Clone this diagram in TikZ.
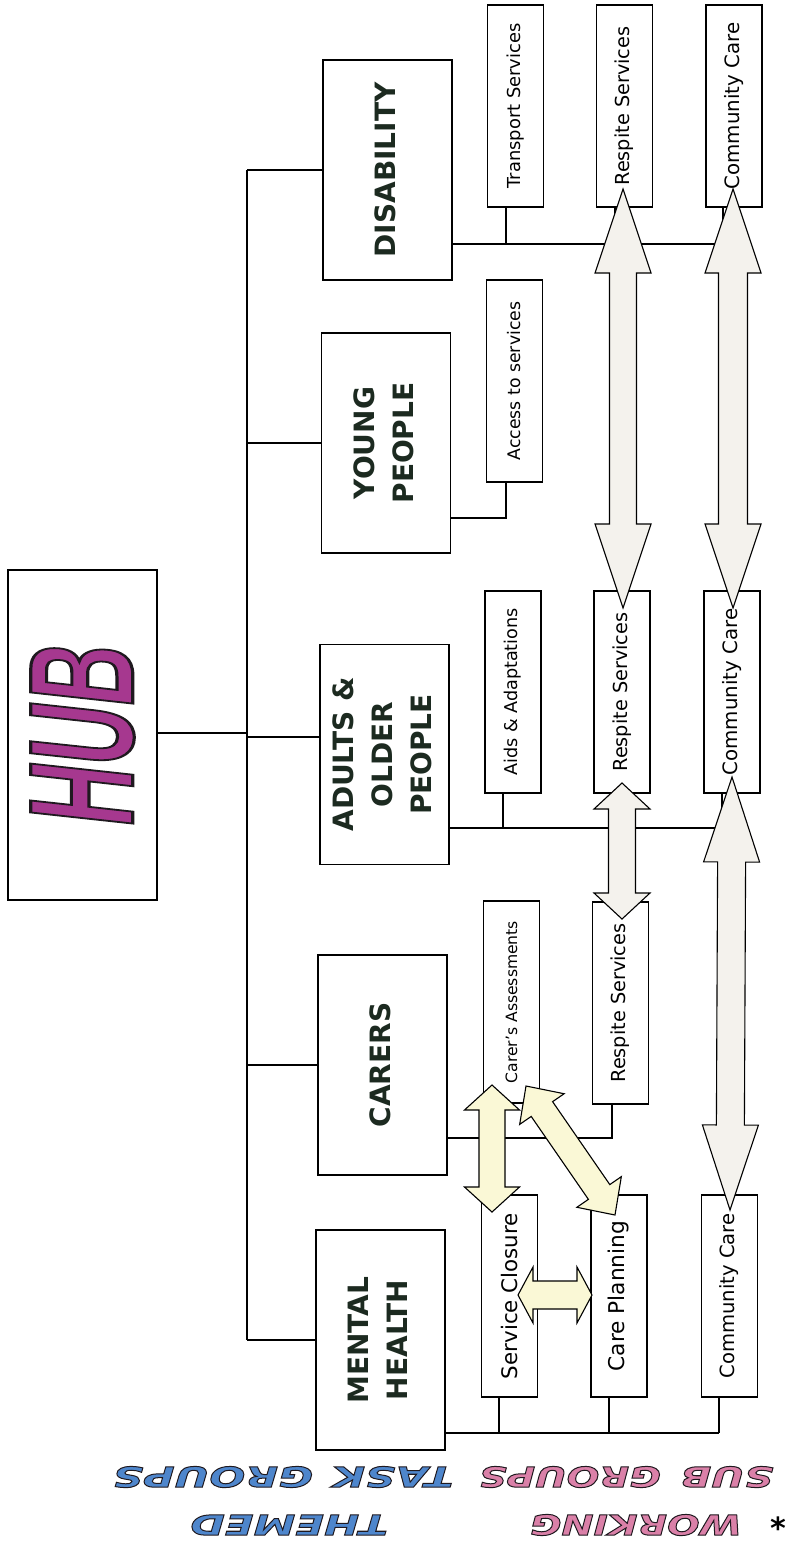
\documentclass[tikz,border=0pt]{standalone}
\usepackage{fontspec}
\usepackage{graphicx}
\usetikzlibrary{calc}
\setmainfont{DejaVu Sans}
\newfontfamily\subfont{DejaVu Sans}
\newfontfamily\themefont{DejaVu Sans}
\newfontfamily\hubfont{Liberation Sans}
\newfontfamily\legfont{DejaVu Sans}
\definecolor{hubmag}{RGB}{166,56,143}
\definecolor{legpink}{RGB}{218,128,168}
\definecolor{legblue}{RGB}{78,134,204}
\definecolor{themetxt}{RGB}{28,42,32}
\definecolor{grayarrow}{RGB}{244,242,237}
\definecolor{yelarrow}{RGB}{250,248,214}
\newcommand{\outl}[2]{\special{pdf:literal direct 2 Tr #1 w 0.12 0.1 0.12 RG}#2\special{pdf:literal direct 0 Tr}}
\newcommand{\vt}[2]{\rotatebox{90}{\fontsize{#1}{#1}\selectfont #2}}
\newcommand{\vth}[1]{\rotatebox{90}{\begin{tabular}{@{}c@{}}#1\end{tabular}}}
\newcommand{\legtext}[3]{\rotatebox{180}{\addfontfeatures{FakeStretch=#1}\color{#2}\outl{1}{#3}}}
\newcommand{\dblarrow}[6]{%
 \path ($(#1)!#5!(#2)$) coordinate (ha) ($(#2)!#5!(#1)$) coordinate (hb);
 \draw[#6] (#1) -- ($(ha)!#4!90:(#1)$) -- ($(ha)!#3!90:(#1)$) -- ($(hb)!#3!-90:(#2)$) -- ($(hb)!#4!-90:(#2)$) -- (#2) -- ($(hb)!#4!90:(#2)$) -- ($(hb)!#3!90:(#2)$) -- ($(ha)!#3!-90:(#1)$) -- ($(ha)!#4!-90:(#1)$) -- cycle;}
\begin{document}
\begin{tikzpicture}[x=1pt,y=-1pt,
  box/.style={draw=black,line width=1.3pt,fill=white,inner sep=0pt},
  themebox/.style={box,minimum width=129pt,minimum height=220pt,text=themetxt,
    font=\themefont\bfseries\fontsize{28}{39}\selectfont},
  subbox/.style={box,minimum width=56pt,minimum height=202pt,font=\subfont},
  conn/.style={draw=black,line width=1.2pt},
  garrow/.style={draw=black,line width=1.1pt,fill=grayarrow},
  yarrow/.style={draw=black,line width=1.1pt,fill=yelarrow},
  legend/.style={inner sep=0pt,font=\legfont\bfseries\itshape\fontsize{28}{28}\selectfont}]
\useasboundingbox (0,0) rectangle (792,1550);
\fill[white] (0,0) rectangle (792,1550);

% hub
\node[box,minimum width=149pt,minimum height=330pt] (hub) at (82.5,735)
  {\rotatebox{90}{\resizebox{180pt}{102pt}{\hubfont\bfseries\itshape\fontsize{140}{140}\selectfont\color{hubmag}\outl{3}{HUB}}}};

% themes
\node[themebox] (dis) at (387.5,170) {\vth{DISABILITY}};
\node[themebox] (yp)  at (386,443)   {\vth{YOUNG\\PEOPLE}};
\node[themebox] (adu) at (384.5,754.5) {\vth{ADULTS \&\\OLDER\\PEOPLE}};
\node[themebox] (car) at (382.5,1065) {\vth{CARERS}};
\node[themebox] (mh)  at (380.5,1340) {\vth{MENTAL\\HEALTH}};

% sub groups
\node[subbox] (trans) at (515.5,106) {\vt{17.9}{Transport Services}};
\node[subbox] (rs1)   at (624.5,106) {\vt{19.3}{Respite Services}};
\node[subbox] (cc1)   at (734,106)   {\vt{19.8}{Community Care}};
\node[subbox] (acc)   at (514.5,381) {\vt{17.3}{Access to services}};
\node[subbox] (aids)  at (513,692)   {\vt{17.6}{Aids \& Adaptations}};
\node[subbox] (rs2)   at (622,692)   {\vt{19.3}{Respite Services}};
\node[subbox] (cc2)   at (732,692)   {\vt{19.8}{Community Care}};
\node[subbox] (cass)  at (511.5,1002) {\vt{15.6}{Carer’s Assessments}};
\node[subbox] (rs3)   at (620.5,1003) {\vt{19.3}{Respite Services}};
\node[subbox] (sclo)  at (509.5,1296) {\vt{21.4}{Service Closure}};
\node[subbox] (cpl)   at (619,1296)  {\vt{21.7}{Care Planning}};
\node[subbox] (cc3)   at (729.5,1296) {\vt{19.6}{Community Care}};

% bus and branches
\coordinate (bt) at (247,170);
\coordinate (bb) at (247,1340);
\draw[conn] (bt) -- (bb);
\draw[conn] (hub.east |- 0,733) -- (bt |- 0,733);
\draw[conn] (dis.west) -- (dis.west -| bt);
\draw[conn] (yp.west) -- (yp.west -| bt);
\draw[conn] (adu.west |- 0,737) -- (bt |- 0,737);
\draw[conn] (car.west) -- (car.west -| bt);
\draw[conn] (mh.west) -- (mh.west -| bt);

% right branches
\draw[conn] (dis.east |- 0,244) -- (723,244);
\draw[conn] (506,0 |- trans.south) -- (506,244);
\draw[conn] (615,0 |- rs1.south) -- (615,244);
\draw[conn] (723,0 |- cc1.south) -- (723,244);
\draw[conn] (yp.east |- 0,518) -| (506,0 |- acc.south);
\draw[conn] (adu.east |- 0,828) -- (722,828);
\draw[conn] (503,0 |- aids.south) -- (503,828);
\draw[conn] (612,0 |- rs2.south) -- (612,828);
\draw[conn] (722,0 |- cc2.south) -- (722,828);
\draw[conn] (car.east |- 0,1138) -| (612,0 |- rs3.south);
\draw[conn] (mh.east |- 0,1433) -- (719,1433);
\draw[conn] (499,0 |- sclo.south) -- (499,1433);
\draw[conn] (609,0 |- cpl.south) -- (609,1433);
\draw[conn] (719,0 |- cc3.south) -- (719,1433);

% arrow tips
\coordinate (a1s) at (623,189);  \coordinate (a1e) at (623,608);
\coordinate (a2s) at (733,189);  \coordinate (a2e) at (733,608);
\coordinate (a3s) at (622,783);  \coordinate (a3e) at (622,919);
\coordinate (a4s) at (732,777);  \coordinate (a4e) at (730,1210);
\coordinate (y1s) at (492,1085); \coordinate (y1e) at (492,1212);
\coordinate (y2s) at (526,1086); \coordinate (y2e) at (615,1215);
\coordinate (y3s) at (518,1295); \coordinate (y3e) at (592,1295);

\dblarrow{a1s}{a1e}{13.5pt}{28pt}{84pt}{garrow}
\dblarrow{a2s}{a2e}{14.5pt}{28pt}{84pt}{garrow}
\dblarrow{a3s}{a3e}{13.5pt}{28pt}{26pt}{garrow}
\dblarrow{a4s}{a4e}{14pt}{28pt}{85pt}{garrow}
\dblarrow{y1s}{y1e}{13pt}{27.5pt}{25pt}{yarrow}
\dblarrow{y2s}{y2e}{13pt}{27pt}{28pt}{yarrow}
\dblarrow{y3s}{y3e}{14pt}{28pt}{15pt}{yarrow}

% legend (printed upside down)
\node[legend] (tgw) at (393,1477) {\legtext{1.5}{legblue}{TASK}};
\node[legend] (tgg) at (213,1477) {\legtext{1.52}{legblue}{GROUPS}};
\node[legend] (sgw) at (727,1477) {\legtext{1.45}{legpink}{SUB}};
\node[legend] (sgg) at (570,1477) {\legtext{1.38}{legpink}{GROUPS}};
\node[legend] (th) at (289,1525) {\legtext{1.5}{legblue}{THEMED}};
\node[legend] (wk) at (636,1525) {\legtext{1.37}{legpink}{WORKING}};
\node[inner sep=0pt,font=\subfont\bfseries\fontsize{30}{30}\selectfont] (star) at (778,1520) {\rotatebox{180}{*}};
\end{tikzpicture}
\end{document}
